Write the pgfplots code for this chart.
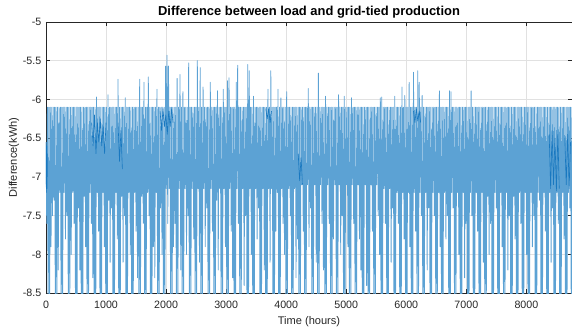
\documentclass[border=0pt]{standalone}
\usepackage{fontspec}
\setmainfont{Liberation Sans}
\usepackage{pgfplots}
\pgfplotsset{compat=1.18}
\definecolor{mlblue}{RGB}{92,162,212}
\definecolor{mldark}{RGB}{25,120,192}
\definecolor{axgray}{RGB}{38,38,38}
\definecolor{gridgray}{RGB}{225,225,225}
\begin{document}
\begin{tikzpicture}
\begin{axis}[
  name=ax,
  at={(0,0)}, anchor=south west,
  scale only axis, width=394.5pt, height=203.55pt,
  xmin=0, xmax=8760, ymin=-8.5, ymax=-5,
  xtick={0,1000,2000,3000,4000,5000,6000,7000,8000},
  ytick={-8.5,-8,-7.5,-7,-6.5,-6,-5.5,-5},
  grid=major, major grid style={gridgray, line width=0.4pt},
  axis line style={axgray, line width=0.45pt},
  tick style={axgray, line width=0.45pt}, tick align=inside, major tick length=3pt,
  ticklabel style={font=\fontsize{8}{9}\selectfont, text=axgray},
  /pgf/number format/assume math mode=true,
  /pgf/number format/set thousands separator={},
  scaled ticks=false,
  xticklabel style={yshift=-2.2pt},
  every axis title shift=0pt,
  title={\bfseries Difference between load and grid-tied production},
  title style={font=\fontsize{9.7}{11}\selectfont, at={(axis description cs:0.5,1.034)}, anchor=center, yshift=0pt},
  xlabel={Time (hours)}, ylabel={Difference(kWh)},
  xlabel style={font=\fontsize{8.3}{9}\selectfont, text=axgray, at={(axis description cs:0.5,-0.1046)}, anchor=center},
  ylabel style={font=\fontsize{8.3}{9}\selectfont, text=axgray, at={(axis description cs:-0.0608,0.5)}, anchor=center},
  clip=true, unbounded coords=jump,
]
\addplot[mlblue, line width=0.6pt, line join=round, no markers]
  table[header=false, row sep=\\, x expr=\coordindex*12, y index=0] {
-6.55\\-7.6\\-6.1\\-9\\-6.1\\-9\\-6.1\\-7.9\\-6.1\\-7.5\\
-6.1\\-7.3\\-6.1\\-9\\-6.1\\-8.9\\-6.1\\-8.2\\-6.1\\-7.2\\
-6.1\\-9\\-6.1\\-9.1\\-6.1\\-7.2\\-6.1\\-7.8\\-6.1\\-7.5\\
-6.1\\-9\\-6.1\\-8.7\\-6.1\\-8\\-6.1\\-7.2\\-6.1\\-7.6\\
-6.1\\-9\\-6.1\\-9\\-6.1\\-7.4\\-6.1\\-8.2\\-6.1\\-9\\
-6.1\\-9\\-6.1\\-7.25\\-6.1\\-7.9\\-6.1\\-9\\-6.1\\-8.8\\
-6.1\\-7.2\\-6.1\\-7.6\\-6.1\\-8.3\\-6.1\\-9\\-6.1\\-9\\
-5.97\\-7.2\\-6.1\\-7.7\\-6.1\\-9\\-6.1\\-9\\-6.1\\-7.2\\
-6.1\\-7.9\\-6.1\\-9\\-6.1\\-9\\-5.94\\-7.3\\-6.1\\-8.1\\
-6.1\\-7.4\\-6.1\\-9\\-6.1\\-8.9\\-6.1\\-7.2\\-6.1\\-7.8\\
-5.74\\-9\\-6.1\\-9\\-6.1\\-7.25\\-6.1\\-8.1\\-6.1\\-7.5\\
-5.98\\-9\\-6.1\\-9\\-6.1\\-7.2\\-6.1\\-8\\-6.1\\-9\\
-6.1\\-9\\-6.1\\-7.2\\-6.1\\-7.7\\-6.1\\-8.3\\-6.1\\-9\\
-5.74\\-9\\-6.1\\-7.25\\-6.1\\-7.6\\-5.78\\-9\\-6.1\\-8.6\\
-6.1\\-7.2\\-5.71\\-7.5\\-6.1\\-9\\-6.1\\-9\\-6.1\\-7.9\\
-6.1\\-8.3\\-6.1\\-7.2\\-5.87\\-9\\-6.1\\-9\\-6.1\\-7.4\\
-6.1\\-8\\-6.1\\-9\\-6.1\\-8.9\\-5.57\\-7.15\\-5.43\\-7.6\\
-5.57\\-7.15\\-6.1\\-9\\-6.1\\-9\\-6.1\\-7.9\\-6.1\\-7.6\\
-6.1\\-9\\-5.73\\-9\\-6.1\\-7.15\\-5.68\\-8.2\\-6.1\\-9\\
-5.9\\-8.8\\-6.1\\-7.15\\-6.1\\-8\\-6.1\\-7.5\\-5.53\\-9\\
-6.1\\-9\\-6.1\\-7.15\\-6.1\\-7.8\\-6.1\\-9\\-6.1\\-9\\
-5.5\\-7.15\\-6.1\\-8.1\\-5.59\\-9\\-6.1\\-8.7\\-5.84\\-7.15\\
-6.1\\-7.9\\-6.1\\-7.4\\-6.1\\-9\\-6.1\\-9\\-5.78\\-7.15\\
-6.1\\-7.7\\-6.1\\-9\\-6.1\\-9\\-6.1\\-7.3\\-5.89\\-8.2\\
-6.1\\-7.15\\-6.1\\-9\\-6.1\\-8.8\\-5.87\\-7.15\\-6.1\\-7.9\\
-6.1\\-9\\-5.76\\-9\\-5.72\\-7.15\\-6.1\\-7.7\\-6.1\\-8.3\\
-6.1\\-9\\-6.1\\-9\\-5.78\\-7.15\\-5.56\\-7.6\\-6.1\\-9\\
-6.1\\-8.6\\-6.1\\-7.15\\-6.1\\-8.4\\-6.1\\-7.5\\-6.1\\-9\\
-5.55\\-9\\-5.63\\-7.15\\-6.1\\-8\\-6.1\\-9\\-5.96\\-9\\
-6.1\\-7.15\\-6.1\\-7.8\\-6.1\\-7.4\\-6.1\\-9\\-6.1\\-9\\
-6.1\\-7.15\\-6.1\\-8.2\\-6.1\\-9\\-6.1\\-8.9\\-5.87\\-7.15\\
-6.1\\-8.1\\-5.63\\-7.15\\-6.1\\-9\\-6.1\\-9\\-6.1\\-7.7\\
-6.1\\-7.2\\-5.87\\-9\\-6.1\\-9\\-5.98\\-7.15\\-6.1\\-7.6\\
-6.1\\-8\\-6.1\\-9\\-5.9\\-8.7\\-6.1\\-7.15\\-6.1\\-7.5\\
-6.1\\-9\\-6.1\\-9\\-6.1\\-7.15\\-6.1\\-8.3\\-6.1\\-7.8\\
-6.1\\-9\\-6.1\\-9\\-6.1\\-7.1\\-6.1\\-7.7\\-6.1\\-9\\
-6.1\\-8.8\\-6.1\\-7.1\\-5.86\\-7.9\\-6.1\\-7.4\\-6.1\\-9\\
-6.1\\-9\\-6.1\\-7.1\\-6.1\\-8.1\\-6.1\\-9\\-5.66\\-9\\
-6.1\\-7.1\\-6.1\\-7.6\\-6.1\\-8.2\\-6.1\\-9\\-5.96\\-9\\
-6.1\\-7.1\\-6.1\\-7.6\\-6.1\\-9\\-6.1\\-8.9\\-6.1\\-7.8\\
-6.1\\-7.1\\-6.1\\-9\\-6.1\\-9\\-5.94\\-7.1\\-6.1\\-8\\
-6.1\\-7.5\\-6.1\\-9\\-5.96\\-9\\-6.1\\-7.1\\-6.1\\-7.9\\
-6.1\\-9\\-6.1\\-8.7\\-5.98\\-7.1\\-6.1\\-7.6\\-6.1\\-9\\
-6.1\\-9\\-6.1\\-7.1\\-6.1\\-7.8\\-6.1\\-8.2\\-6.1\\-9\\
-6.1\\-9\\-6.1\\-7.1\\-6.1\\-8.4\\-6.1\\-9\\-6.1\\-9\\
-6.1\\-7.1\\-6.1\\-7.7\\-6.1\\-9\\-6.1\\-8.8\\-6.1\\-7.1\\
-6.1\\-7.5\\-6.1\\-8\\-5.98\\-9\\-5.97\\-9\\-6.1\\-7.15\\
-6.1\\-7.6\\-6.1\\-9\\-6.1\\-9\\-6.1\\-7.15\\-6.1\\-8.1\\
-6.1\\-7.4\\-6.1\\-9\\-5.96\\-9\\-6.1\\-7.2\\-6.1\\-7.6\\
-6.1\\-9\\-6.1\\-8.9\\-5.84\\-7.2\\-6.1\\-7.8\\-5.95\\-9\\
-6.1\\-9\\-6.1\\-7.2\\-5.78\\-7.9\\-6.1\\-9\\-6.1\\-9\\
-5.65\\-7.2\\-6.1\\-7.7\\-6.1\\-9\\-5.63\\-8.7\\-5.78\\-7.2\\
-6.1\\-7.5\\-5.95\\-9\\-6.1\\-9\\-6.1\\-7.2\\-6.1\\-8.2\\
-6.1\\-7.4\\-6.1\\-9\\-6.1\\-9\\-6.1\\-7.2\\-6.1\\-7.5\\
-6.1\\-9\\-6.1\\-8.8\\-6.1\\-7.2\\-5.89\\-7.9\\-6.1\\-9\\
-6.1\\-9\\-6.1\\-7.2\\-6.1\\-7.8\\-6.1\\-7.5\\-6.1\\-9\\
-5.89\\-9\\-5.9\\-7.2\\-6.1\\-7.4\\-6.1\\-9\\-6.1\\-8.6\\
-6.1\\-7.2\\-6.1\\-8\\-6.1\\-9\\-6.1\\-9\\-6.1\\-7.2\\
-6.1\\-8.3\\-6.1\\-7.6\\-6.1\\-9\\-6.1\\-9\\-6.1\\-7.2\\
-5.89\\-7.5\\-6.1\\-9\\-6.1\\-8.9\\-6.1\\-7.2\\-6.1\\-7.7\\
-6.1\\-9\\-6.1\\-9\\-6.1\\-7.2\\-6.1\\-8.1\\-6.1\\-9\\
-6.1\\-8.8\\-6.1\\-7.25\\-6.1\\-8\\-6.1\\-7.6\\-6.1\\-9\\
-6.1\\-9\\-6.1\\-7.2\\-6.1\\-7.4\\-6.1\\-9\\-6.1\\-9\\
-6.1\\-7.2\\-6.1\\-7.9\\-6.1\\-9\\-6.1\\-8.7\\-6.1\\-7.2\\
-6.1\\-8.2\\-6.1\\-7.5\\-6.1\\-9\\-6.1\\-9\\-6.1\\-7.25\\
-6.1\\-7.8\\-6.1\\-9\\-6.1\\-9\\-6.1\\-7.2\\-6.1\\-7.6\\
-6.1\\-9\\-6.1\\-8.9\\-6.1\\-7.2\\-6.1\\-8\\-6.1\\-9\\
-6.1\\-9\\-6.1\\-7.2\\-6.1\\-7.9\\-6.1\\-7.5\\-6.1\\-9\\
-6.1\\-9\\-6.1\\-7.2\\-6.1\\-7.3\\-6.1\\-9\\-6.1\\-8.8\\
-6.1\\-7.2\\-6.1\\-7.7\\-6.1\\-9\\-6.1\\-9\\-6.1\\-7.2\\
-6.1\\-8.1\\-6.1\\-7.4\\-6.1\\-9\\-6.1\\-9\\-6.1\\-7.2\\
-6.1\\-7.6\\-6.1\\-9\\-6.1\\-8.7\\-6.1\\-7.2\\-6.1\\-7.8\\
-6.1\\-9\\-6.1\\-9\\-6.1\\-7.2\\-6.1\\-7.4\\-6.1\\-9\\
-6.1\\
};
\addplot[mldark, line width=0.45pt, line join=round, no markers] coordinates {
(0,-6.55) (6,-7.2) (12,-6.6) (18,-7.15) (24,-6.7)
(30,nan)
(760,-6.3) (784,-6.6) (808,-6.2) (832,-6.7) (856,-6.3) (880,-6.55) (904,-6.25) (928,-6.6) (952,-6.35) (976,-6.7) (1000,-6.3)
(1010,nan)
(1200,-6.3) (1224,-6.8) (1248,-6.4) (1272,-6.9)
(1280,nan)
(1900,-6.15) (1924,-6.4) (1948,-6.12) (1972,-6.35) (1996,-6.2) (2020,-6.45) (2044,-6.15) (2068,-6.35) (2092,-6.12) (2116,-6.3)
(2120,nan)
(3660,-6.12) (3684,-6.25) (3708,-6.12) (3732,-6.3) (3756,-6.15)
(3760,nan)
(4200,-6.7) (4224,-7.05) (4248,-6.75) (4272,-7.1)
(4280,nan)
(6120,-6.15) (6144,-6.3) (6168,-6.12) (6192,-6.28) (6216,-6.15) (6240,-6.3)
(6250,nan)
(8380,-6.45) (8404,-7.15) (8428,-6.4) (8452,-7.1) (8476,-6.5) (8500,-7.18) (8524,-6.45) (8548,-7.15)
(8560,nan)
(8640,-6.5) (8664,-7.1) (8688,-6.45) (8712,-7.15) (8736,-6.55)
};
\end{axis}
\pgfresetboundingbox
\useasboundingbox ([xshift=-34.5pt,yshift=-28.3pt]ax.south west) rectangle ([yshift=16.4pt]ax.north east);
\end{tikzpicture}
\end{document}
